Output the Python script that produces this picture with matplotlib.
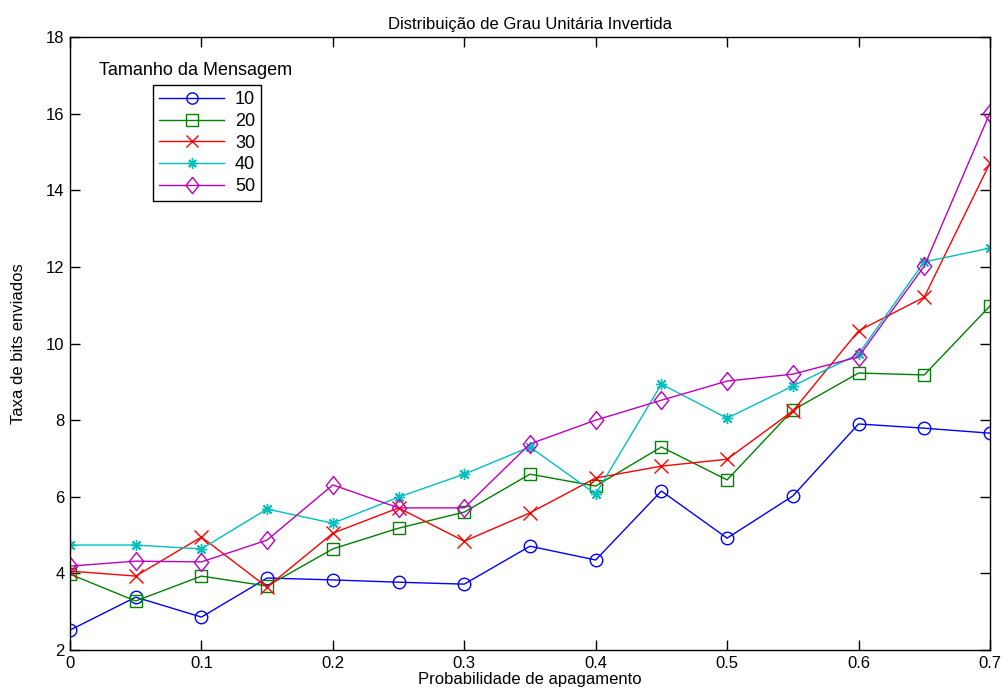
import matplotlib
matplotlib.use("Agg")
import matplotlib.pyplot as plt
import numpy as np

# probabilidade de apagamento
prob = [0.0, 0.05, 0.1, 0.15, 0.2, 0.25, 0.3, 0.35, 0.4, 0.45, 0.5, 0.55, 0.6, 0.65, 0.7]

# taxa de bits enviados por tamanho da mensagem
taxa_10 = [2.52, 3.38, 2.86, 3.88, 3.83, 3.77, 3.72, 4.71, 4.35, 6.15, 4.92, 6.02, 7.90, 7.79, 7.66]
taxa_20 = [3.98, 3.28, 3.93, 3.67, 4.64, 5.18, 5.60, 6.59, 6.28, 7.30, 6.44, 8.26, 9.23, 9.18, 10.98]
taxa_30 = [4.06, 3.93, 4.95, 3.64, 5.05, 5.71, 4.84, 5.58, 6.49, 6.80, 6.98, 8.24, 10.33, 11.21, 14.71]
taxa_40 = [4.74, 4.74, 4.64, 5.68, 5.31, 5.99, 6.59, 7.30, 6.07, 8.94, 8.05, 8.89, 9.73, 12.13, 12.49]
taxa_50 = [4.19, 4.32, 4.30, 4.87, 6.31, 5.71, 5.71, 7.38, 8.00, 8.52, 9.02, 9.20, 9.65, 12.02, 16.02]

labels = ["10", "20", "30", "40", "50"]
series = [taxa_10, taxa_20, taxa_30, taxa_40, taxa_50]
colors = ["#0000ff", "#008000", "#ff0000", "#00bfbf", "#bf00bf"]
# diamante estilo matlab, um pouco mais alto que largo
losango = [(0, 1), (0.8, 0), (0, -1), (-0.8, 0), (0, 1)]
markers = ["o", "s", "x", (8, 2, 0), losango]
msizes = [9, 9, 10, 8, 13]

narrow = ["Liberation Sans Narrow", "Liberation Sans", "DejaVu Sans"]

fig = plt.figure(figsize=(10.04, 6.93), dpi=100)
ax = fig.add_axes([0.0697, 0.062, 0.9163, 0.8846])

for y, lab, c, m, ms in zip(series, labels, colors, markers, msizes):
    ax.plot(prob, y, color=c, marker=m, markersize=ms, markerfacecolor="none",
            markeredgecolor=c, linewidth=1.0, markeredgewidth=1.0, label=lab)

ax.set_xlim(0, 0.7)
ax.set_ylim(2, 18)
ax.set_xticks(np.arange(0, 0.71, 0.1))
ax.set_xticklabels(["0", "0.1", "0.2", "0.3", "0.4", "0.5", "0.6", "0.7"])
ax.set_yticks(np.arange(2, 19, 2))
ax.tick_params(direction="in", top=True, right=True, length=7, width=1, pad=4)
for lbl in ax.get_xticklabels() + ax.get_yticklabels():
    lbl.set_family(narrow)
    lbl.set_fontsize(12)
for s in ax.spines.values():
    s.set_linewidth(1.0)

ax.set_title("Distribuição de Grau Unitária Invertida", family=narrow, fontsize=12, pad=6)
ax.set_xlabel("Probabilidade de apagamento", family=narrow, fontsize=12, labelpad=1)
ax.set_ylabel("Taxa de bits enviados", family=narrow, fontsize=12, labelpad=14)

leg = ax.legend(loc="upper left", bbox_to_anchor=(0.09, 0.922), borderaxespad=0,
                fancybox=False, edgecolor="black", framealpha=1,
                prop={"family": "Liberation Sans", "size": 13},
                handlelength=3.6, borderpad=0.35, labelspacing=0.26, handletextpad=0.6,
                markerscale=0.9)
leg.get_frame().set_linewidth(1.0)
ax.text(0.032, 0.945, "Tamanho da Mensagem", transform=ax.transAxes,
        family="Liberation Sans", fontsize=13, va="center", ha="left")

fig.savefig("out.png", dpi=100)
